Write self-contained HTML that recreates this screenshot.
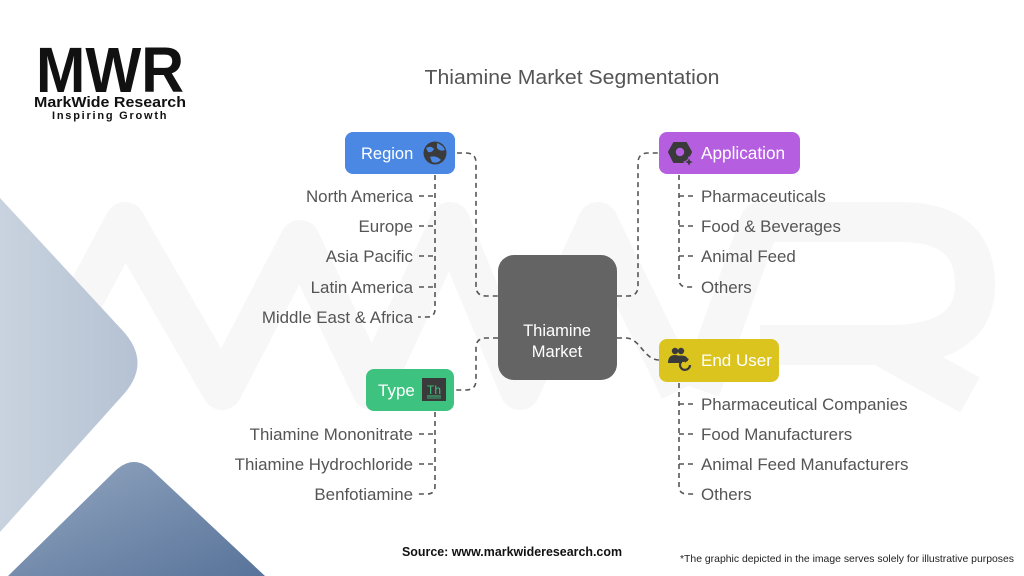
<!DOCTYPE html>
<html><head><meta charset="utf-8"><style>
html,body{margin:0;padding:0;background:#fff;}
svg{display:block;}
text{font-family:"Liberation Sans",sans-serif;}
</style></head><body>
<svg width="1024" height="576" viewBox="0 0 1024 576" xmlns="http://www.w3.org/2000/svg">
<defs>
<linearGradient id="g1" x1="0" y1="0" x2="1" y2="0"><stop offset="0" stop-color="#c9d3df"/><stop offset="1" stop-color="#b5c2d3"/></linearGradient>
<linearGradient id="g2" x1="0" y1="0" x2="1" y2="1"><stop offset="0" stop-color="#93a7c0"/><stop offset="1" stop-color="#58739a"/></linearGradient>
</defs>
<rect width="1024" height="576" fill="#fff"/>
<!-- watermark -->
<g fill="none" stroke="#f7f7f7" stroke-width="40" stroke-linejoin="round">
<polyline points="35,390 125,222 222,390 300,240 372,390 450,222 520,390 598,222 680,390"/>
<path d="M700,390 L760,222 L900,222 Q975,222 975,285 Q975,340 900,345 L760,345 M880,345 L970,395"/>
</g>
<!-- background shapes -->
<path d="M0,198 L123,331 Q152,363 123,395 L0,532 Z" fill="url(#g1)"/>
<path d="M8,576 L114,472 Q134,452 154,472 L265,576 Z" fill="url(#g2)"/>

<!-- logo -->
<text x="36" y="92" font-size="64" font-weight="bold" fill="#111" textLength="148" lengthAdjust="spacingAndGlyphs">MWR</text>
<text x="34" y="107" font-size="14.5" font-weight="bold" fill="#111" textLength="152" lengthAdjust="spacingAndGlyphs">MarkWide Research</text>
<text x="52" y="119" font-size="11" font-weight="bold" fill="#111" textLength="116" lengthAdjust="spacing" letter-spacing="1.5">Inspiring Growth</text>

<!-- title -->
<text x="572" y="84" font-size="20" fill="#555" text-anchor="middle" textLength="295" lengthAdjust="spacingAndGlyphs">Thiamine Market Segmentation</text>

<!-- connectors -->
<g fill="none" stroke="#555" stroke-width="1.6" stroke-dasharray="5 4">
<path d="M457,153 L466,153 Q476,153 476,163 L476,286 Q476,296 486,296 L498,296"/>
<path d="M498,338 L486,338 Q476,338 476,348 L476,380 Q476,390 466,390 L456,390"/>
<path d="M617,296 L628,296 Q638,296 638,286 L638,163 Q638,153 648,153 L659,153"/>
<path d="M617,338 L626,338 C640,338 644,360 659,360"/>
<path d="M435,175 L435,309 Q435,317 427,317 L418,317"/>
<path d="M419,196 L435,196 M419,226 L435,226 M419,256 L435,256 M419,287 L435,287"/>
<path d="M435,412 L435,486 Q435,494 427,494 L418,494"/>
<path d="M419,434 L435,434 M419,464 L435,464"/>
<path d="M679,175 L679,279 Q679,287 687,287 L696,287"/>
<path d="M679,196 L695,196 M679,226 L695,226 M679,256 L695,256"/>
<path d="M679,383 L679,486 Q679,494 687,494 L696,494"/>
<path d="M679,404 L695,404 M679,434 L695,434 M679,464 L695,464"/>
</g>

<!-- center -->
<rect x="498" y="255" width="119" height="125" rx="16" fill="#646464"/>
<text x="557" y="336" font-size="16.5" fill="#fff" text-anchor="middle">Thiamine</text>
<text x="557" y="357" font-size="16.5" fill="#fff" text-anchor="middle">Market</text>

<!-- Region -->
<rect x="345" y="132" width="110" height="42" rx="8" fill="#4a88e3"/>
<text x="361" y="159" font-size="16.5" fill="#fff">Region</text>
<circle cx="435" cy="153" r="11.5" fill="#3b3b3b"/>
<path d="M426,148 Q431,145 434,149 Q432,153 428,152 Z M437,143 Q443,145 445,150 Q440,152 437,148 Z M430,157 Q436,155 441,160 Q437,164 432,162 Z" fill="#4a88e3"/>

<!-- Application -->
<rect x="659" y="132" width="141" height="42" rx="8" fill="#b55ee0"/>
<path d="M674,143 L686,143 L691,152 L686,162 L674,162 L669,152 Z" fill="#3a3a3a" stroke="#3a3a3a" stroke-width="2" stroke-linejoin="round"/>
<circle cx="680" cy="152" r="4.2" fill="#b55ee0"/>
<path d="M689,157 L690.5,160.5 L694,162 L690.5,163.5 L689,167 L687.5,163.5 L684,162 L687.5,160.5 Z" fill="#3a3a3a" stroke="#b55ee0" stroke-width="1"/>
<text x="701" y="159" font-size="17.2" fill="#fff">Application</text>

<!-- End User -->
<rect x="659" y="339" width="120" height="43" rx="8" fill="#dcc41f"/>
<circle cx="675" cy="351" r="3.2" fill="#3a3a3a"/>
<circle cx="681" cy="351" r="3.2" fill="#3a3a3a"/>
<path d="M668,363 Q668,355 675,355 Q682,355 682,363 Z M677,356 Q688,354 688,361 L683,362 Z" fill="#3a3a3a"/>
<path d="M690,365 A5,5 0 1 1 686,360" fill="none" stroke="#3a3a3a" stroke-width="2.2"/>
<path d="M684,357 L689,359 L685,363 Z" fill="#3a3a3a"/>
<text x="701" y="366" font-size="17" fill="#fff">End User</text>

<!-- Type -->
<rect x="366" y="369" width="88" height="42" rx="8" fill="#3dc37f"/>
<text x="378" y="396" font-size="17" fill="#fff">Type</text>
<rect x="422" y="378" width="24" height="23" fill="#3a3a3a"/>
<text x="434" y="394" font-size="12" fill="#3dc37f" text-anchor="middle" font-family="Liberation Serif,serif">Th</text>
<line x1="427" y1="396" x2="441" y2="396" stroke="#3dc37f" stroke-width="1"/>
<line x1="427" y1="398" x2="441" y2="398" stroke="#3dc37f" stroke-width="0.8"/>

<!-- left lists -->
<g font-size="16.9" fill="#555" text-anchor="end">
<text x="413" y="202">North America</text>
<text x="413" y="232">Europe</text>
<text x="413" y="262">Asia Pacific</text>
<text x="413" y="293">Latin America</text>
<text x="413" y="323">Middle East &amp; Africa</text>
<text x="413" y="440">Thiamine Mononitrate</text>
<text x="413" y="470">Thiamine Hydrochloride</text>
<text x="413" y="500">Benfotiamine</text>
</g>
<g font-size="16.9" fill="#555">
<text x="701" y="202">Pharmaceuticals</text>
<text x="701" y="232">Food &amp; Beverages</text>
<text x="701" y="262">Animal Feed</text>
<text x="701" y="293">Others</text>
<text x="701" y="410">Pharmaceutical Companies</text>
<text x="701" y="440">Food Manufacturers</text>
<text x="701" y="470">Animal Feed Manufacturers</text>
<text x="701" y="500">Others</text>
</g>

<!-- footer -->
<text x="402" y="556" font-size="12.5" font-weight="bold" fill="#111" textLength="220" lengthAdjust="spacingAndGlyphs">Source: www.markwideresearch.com</text>
<text x="680" y="562" font-size="10.5" fill="#222" textLength="334" lengthAdjust="spacingAndGlyphs">*The graphic depicted in the image serves solely for illustrative purposes</text>
</svg>
</body></html>
